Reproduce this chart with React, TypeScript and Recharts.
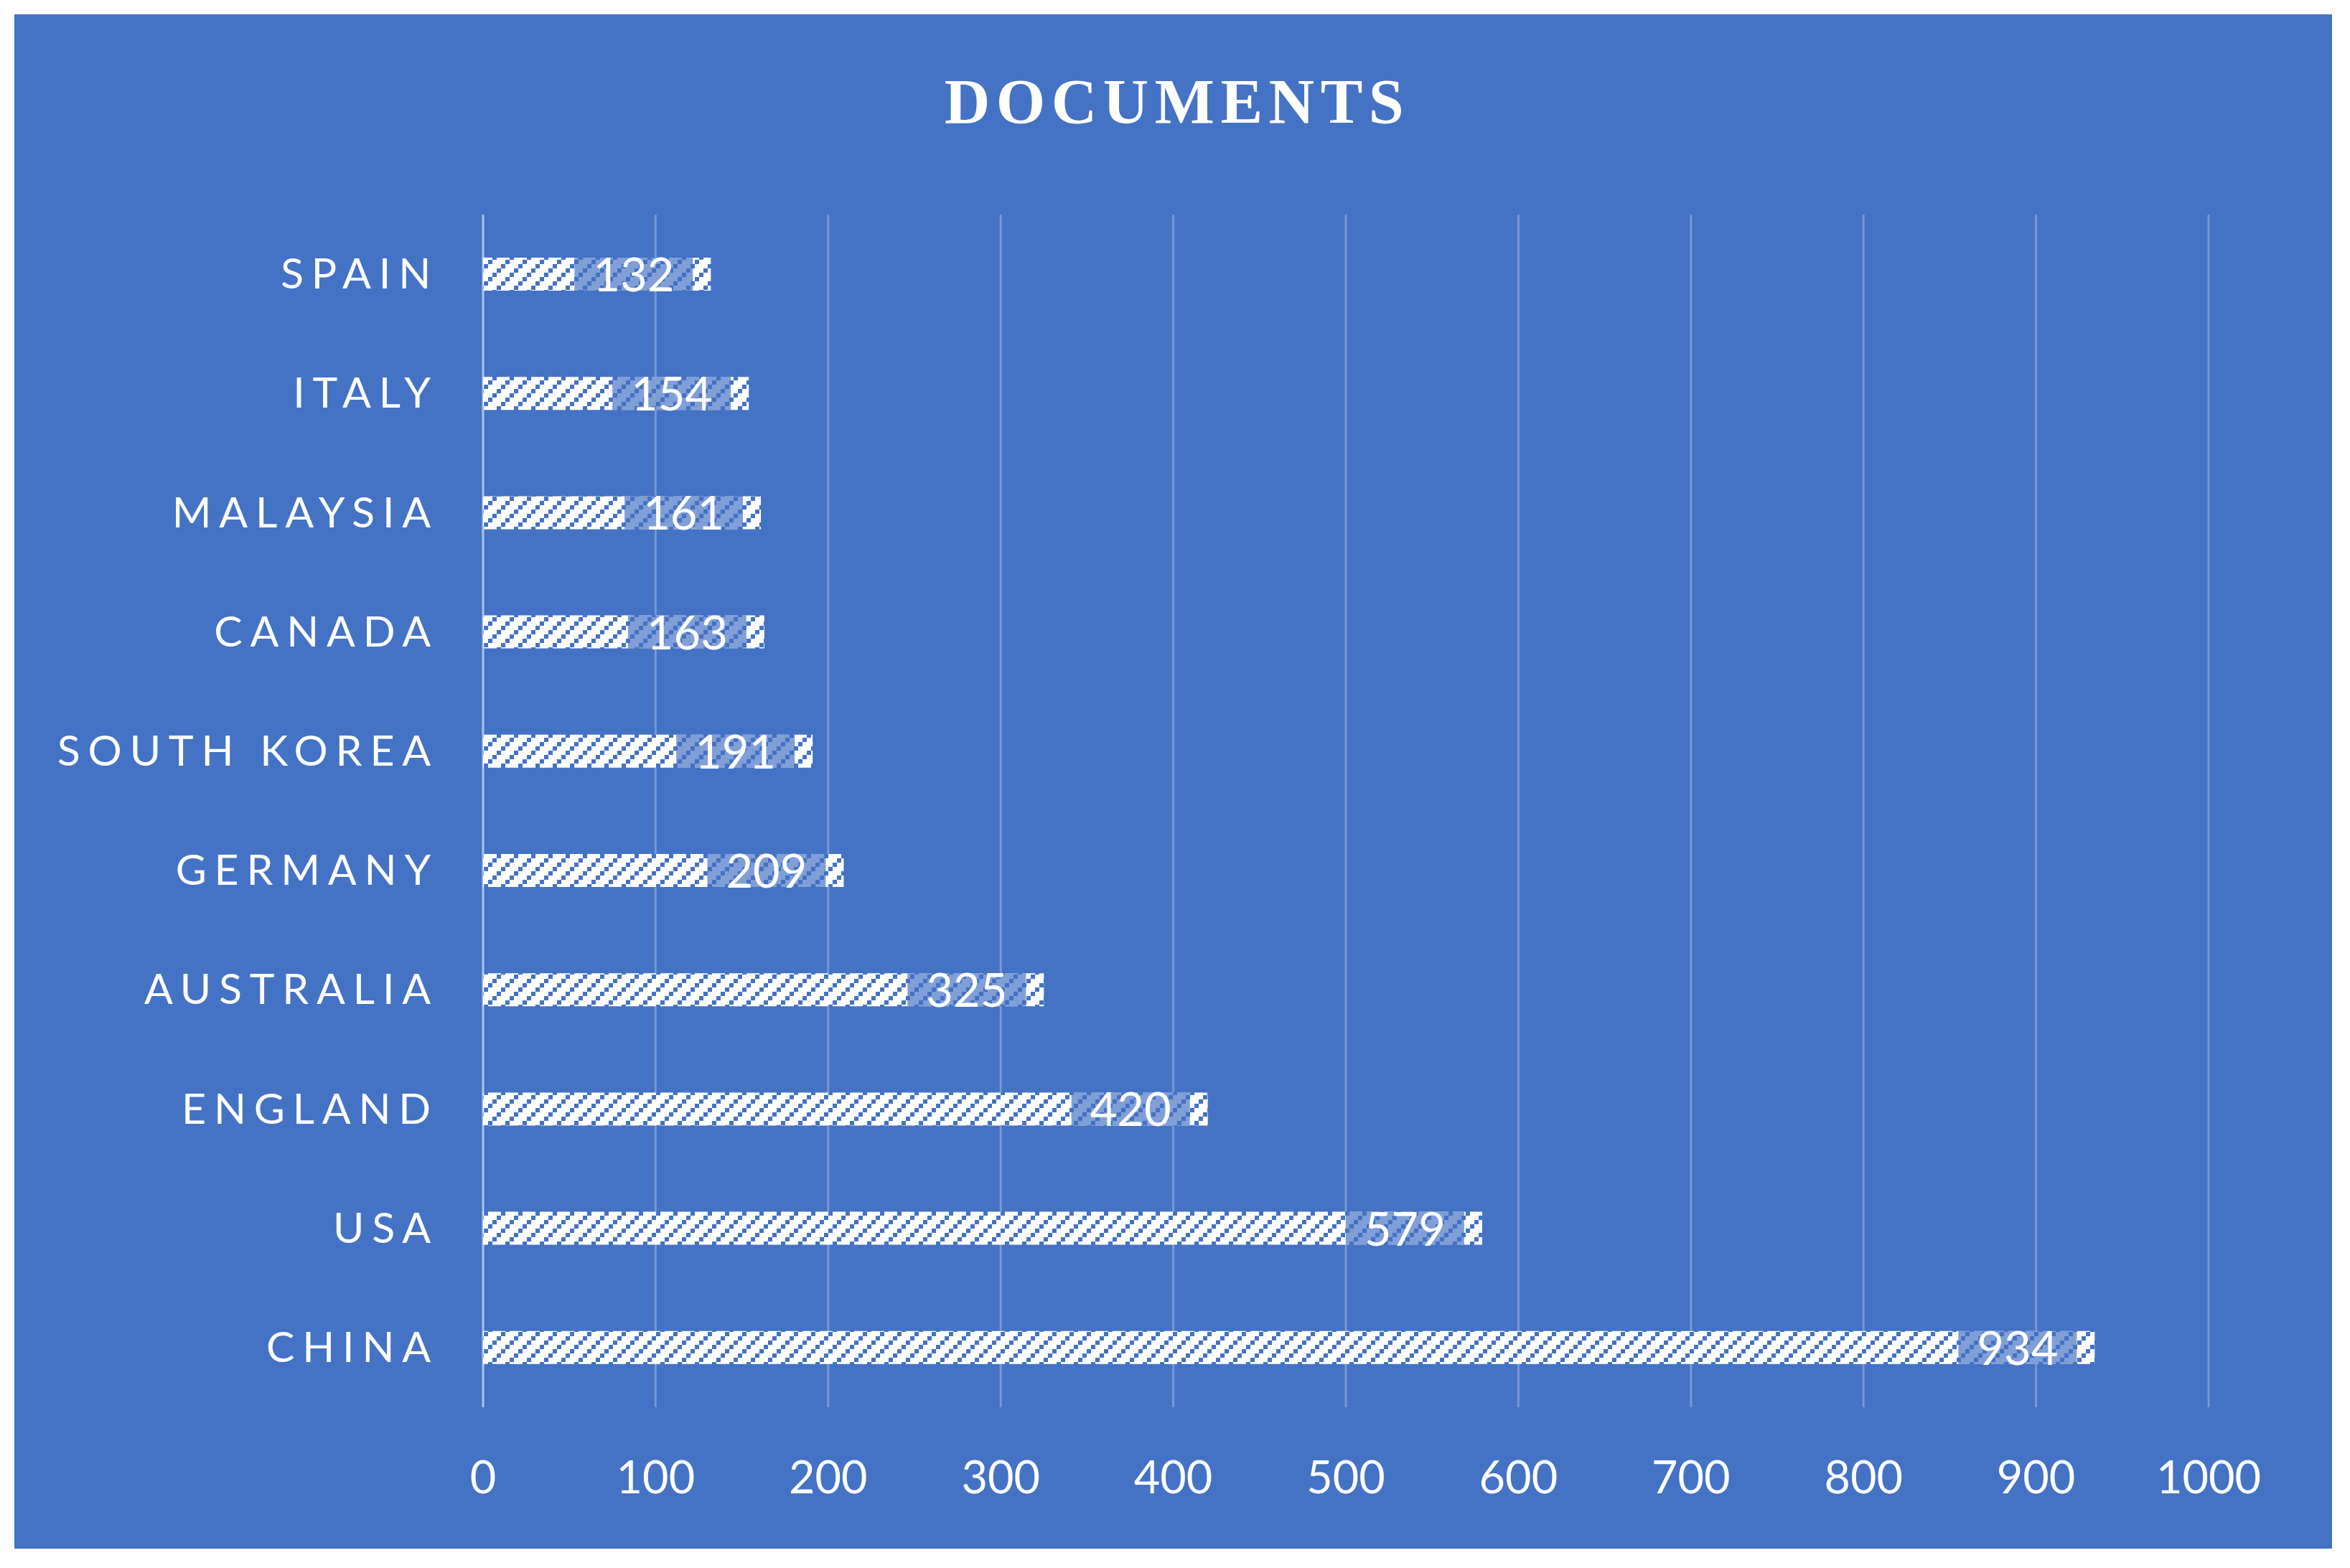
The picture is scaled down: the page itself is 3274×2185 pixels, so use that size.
import React from 'react';
import { BarChart, Bar, XAxis, YAxis, CartesianGrid, LabelList } from 'recharts';

// Data (top to bottom)
const countries = ['SPAIN', 'ITALY', 'MALAYSIA', 'CANADA', 'SOUTH KOREA', 'GERMANY', 'AUSTRALIA', 'ENGLAND', 'USA', 'CHINA'];
const documents = [132, 154, 161, 163, 191, 209, 325, 420, 579, 934];
const xTicks = [0, 100, 200, 300, 400, 500, 600, 700, 800, 900, 1000];

const BLUE = '#4472C4';
const SANS = 'Lato, "Open Sans", sans-serif';

const data = countries.map((name, i) => ({ name, value: documents[i] }));

const CategoryTick = (props: any) => {
  const { x, y, payload } = props;
  return (
    <text
      x={x - 62}
      y={y + 20}
      textAnchor="end"
      fill="#ffffff"
      fontFamily={SANS}
      fontSize={59}
      letterSpacing={10.8}
    >
      {payload.value}
    </text>
  );
};

const ValueTick = (props: any) => {
  const { x, y, payload } = props;
  return (
    <text x={x} y={y + 120} textAnchor="middle" fill="#ffffff" fontFamily={SANS} fontSize={63}>
      {payload.value}
    </text>
  );
};

// Excel-style data label: translucent box sitting just inside the bar end
const renderLabel = (props: any) => {
  const vb = props.viewBox || {};
  const x = props.x ?? vb.x;
  const y = props.y ?? vb.y;
  const width = props.width ?? vb.width;
  const height = props.height ?? vb.height;
  const end = x + width;
  const boxW = 165;
  const boxX = end - 25 - boxW;
  return (
    <g>
      <rect x={boxX} y={y} width={boxW} height={height} fill={BLUE} fillOpacity={0.68} />
      <text
        x={boxX + boxW / 2}
        y={y + height / 2 + 24}
        textAnchor="middle"
        fill="#ffffff"
        fontFamily={SANS}
        fontSize={65}
      >
        {props.value}
      </text>
    </g>
  );
};

const App: React.FC = () => {
  return (
    <div style={{ position: 'absolute', left: 0, top: 0, width: 3274, height: 2185, background: '#ffffff' }}>
      <div style={{ position: 'absolute', left: 20, top: 20, width: 3229, height: 2138, background: BLUE }}>
        <BarChart
          width={3229}
          height={2138}
          data={data}
          layout="vertical"
          margin={{ top: 279, right: 172, bottom: 167, left: 0 }}
        >
          <defs>
            <pattern id="hatch" patternUnits="userSpaceOnUse" width={24} height={24}>
              <rect x={0} y={0} width={24} height={24} fill="#ffffff" />
              <rect x={18} y={0} width={6} height={6} fill={BLUE} />
              <rect x={12} y={6} width={6} height={6} fill={BLUE} />
              <rect x={6} y={12} width={6} height={6} fill={BLUE} />
              <rect x={0} y={18} width={6} height={6} fill={BLUE} />
            </pattern>
          </defs>
          <CartesianGrid horizontal={false} stroke="#ffffff" strokeOpacity={0.27} strokeWidth={3} />
          <XAxis
            type="number"
            domain={[0, 1000]}
            ticks={xTicks}
            interval={0}
            axisLine={false}
            tickLine={false}
            tickSize={0}
            tickMargin={0}
            height={30}
            tick={<ValueTick />}
          />
          <YAxis
            type="category"
            dataKey="name"
            width={653}
            axisLine={{ stroke: '#ffffff', strokeOpacity: 0.4, strokeWidth: 3 }}
            tickLine={false}
            tickSize={0}
            tickMargin={0}
            interval={0}
            tick={<CategoryTick />}
          />
          <Bar dataKey="value" fill="url(#hatch)" barSize={46} isAnimationActive={false}>
            <LabelList dataKey="value" content={renderLabel} />
          </Bar>
        </BarChart>
        <svg style={{ position: 'absolute', left: 0, top: 0 }} width={3229} height={260}>
          <text
            x={1620}
            y={151}
            textAnchor="middle"
            fill="#ffffff"
            fontFamily='"Liberation Serif", "DejaVu Serif", serif'
            fontWeight="bold"
            fontSize={88}
            letterSpacing={8.5}
          >
            DOCUMENTS
          </text>
        </svg>
      </div>
    </div>
  );
};

export default App;
